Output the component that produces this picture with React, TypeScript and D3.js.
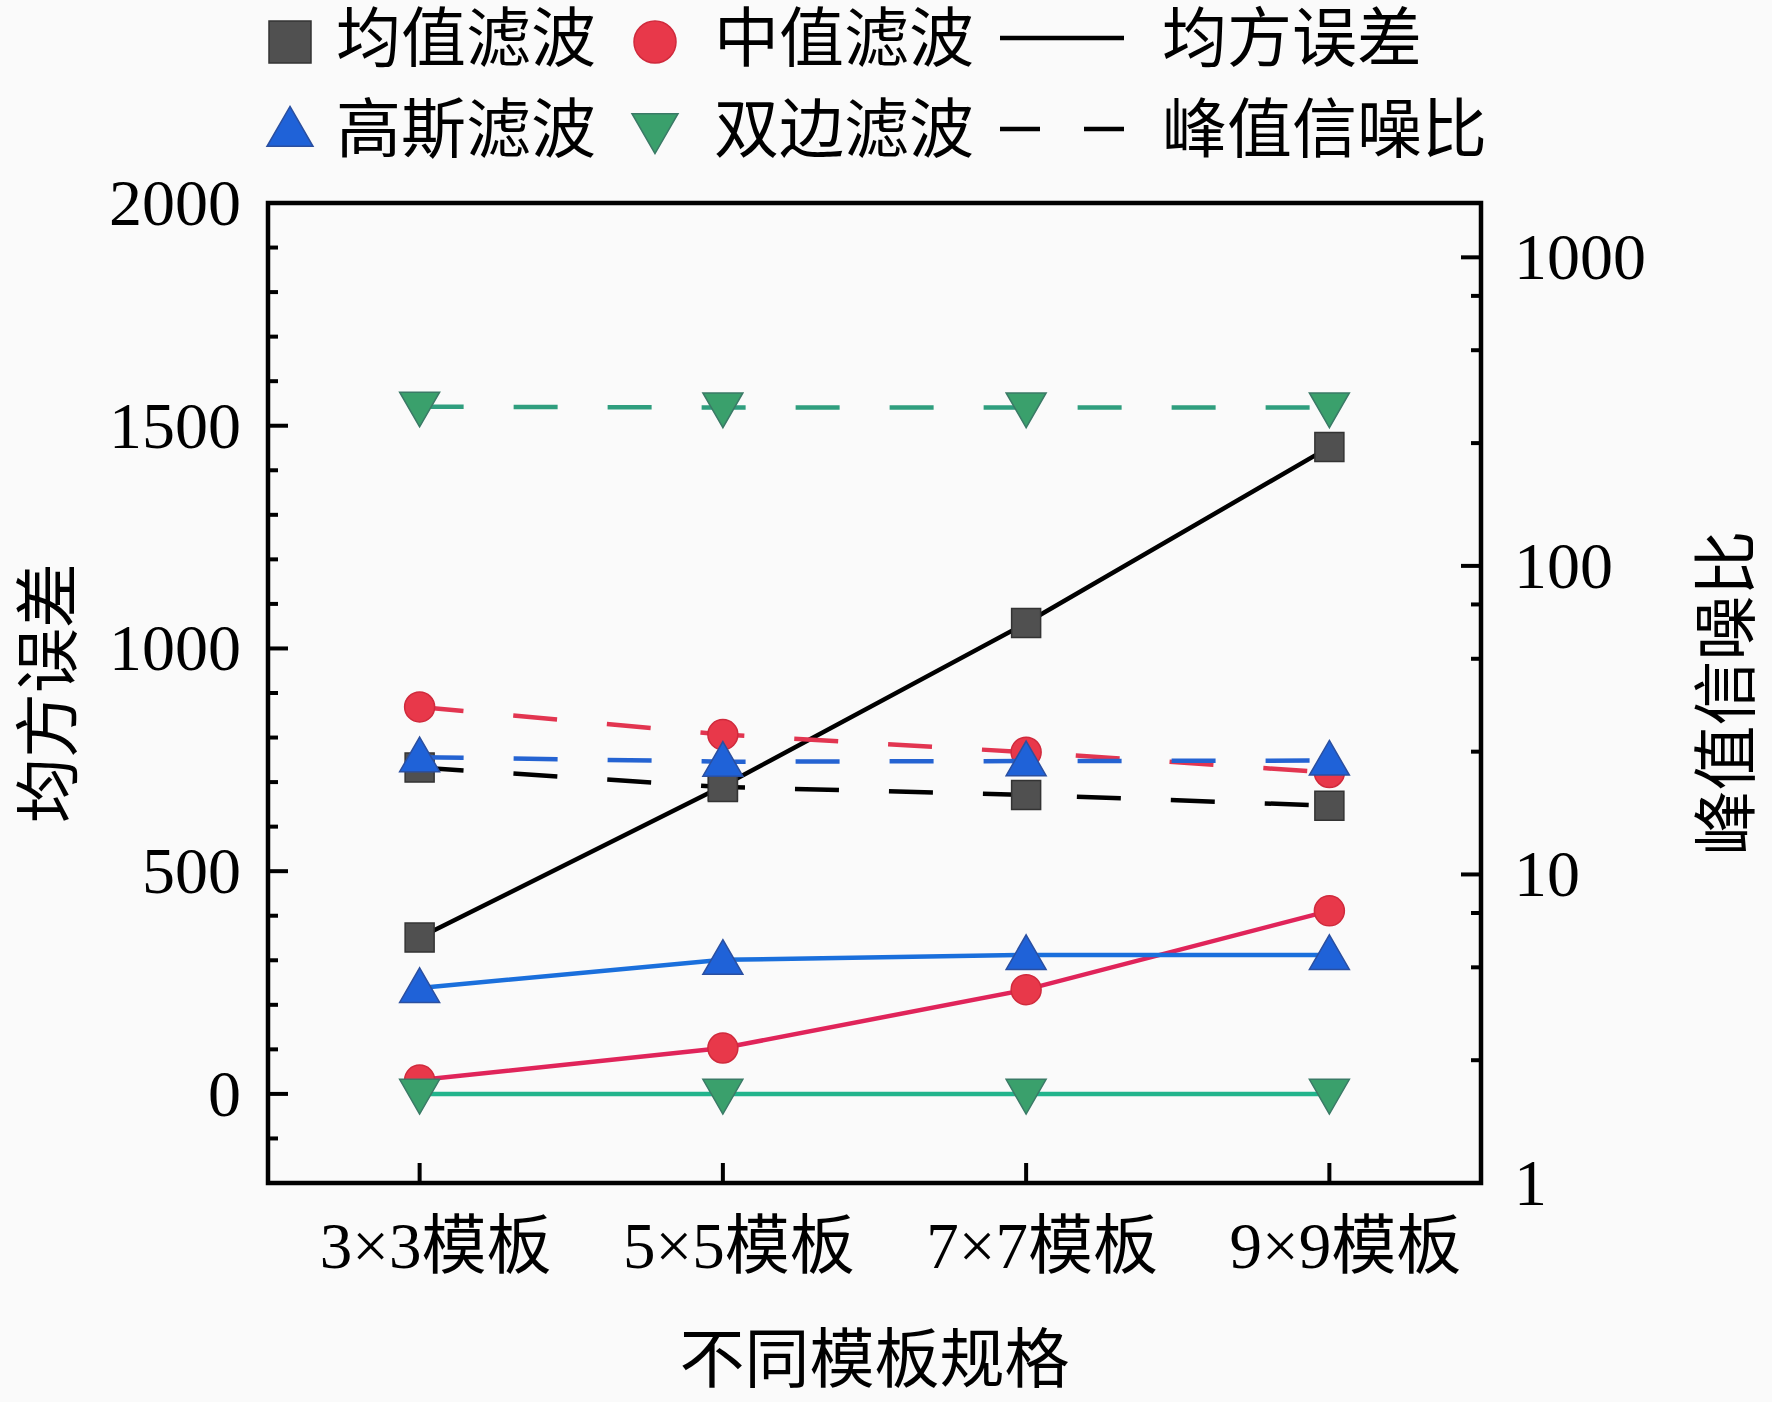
import * as d3 from 'd3';

// categories and values
const templates = ['3×3模板', '5×5模板', '7×7模板', '9×9模板'];
const filters = ['均值滤波', '中值滤波', '高斯滤波', '双边滤波'];

// 均方误差 (left axis, linear)
const mseMean = [351, 691, 1057, 1452];
const mseMedian = [31, 103, 234, 411];
const mseGauss = [238, 301, 312, 312];
const mseBilateral = [0, 0, 0, 0];

// 峰值信噪比 (right axis, log)
const psnrMean = [22.2, 19.2, 18.1, 16.7];
const psnrMedian = [34.9, 28.4, 24.9, 21.4];
const psnrGauss = [24.0, 23.2, 23.3, 23.4];
const psnrBilateral = [328, 326, 326, 326];

const leftTicks = [0, 500, 1000, 1500, 2000];
const rightTicks = [1, 10, 100, 1000];

const W = 1772;
const H = 1402;
const M = { left: 268, right: 1481, top: 203, bottom: 1183 };

const latin = '"Liberation Serif", "Times New Roman", serif';
const cjk = '"Liberation Serif", "Noto Sans CJK SC", sans-serif';

const series = [
  { name: filters[0], mse: mseMean, psnr: psnrMean, symbol: d3.symbolSquare, rot: 0, fill: '#505050', edge: '#333333', line: '#000000', dash: '#000000' },
  { name: filters[1], mse: mseMedian, psnr: psnrMedian, symbol: d3.symbolCircle, rot: 0, fill: '#e8384a', edge: '#d02a3c', line: '#e0245a', dash: '#e23550' },
  { name: filters[2], mse: mseGauss, psnr: psnrGauss, symbol: d3.symbolTriangle, rot: 0, fill: '#1f62d8', edge: '#2a4fa0', line: '#1a6fdc', dash: '#2463d2' },
  { name: filters[3], mse: mseBilateral, psnr: psnrBilateral, symbol: d3.symbolTriangle, rot: 180, fill: '#3aa06c', edge: '#3a7a66', line: '#22b48c', dash: '#2f9e7e' },
];

// marker areas: plot vs legend
function markerSize(symbol: any, big: boolean) {
  if (symbol === d3.symbolSquare) return big ? 42 * 42 : 29 * 29;
  if (symbol === d3.symbolCircle) return Math.PI * (big ? 21 * 21 : 15 * 15);
  const s = big ? 46 : 40;
  return (Math.sqrt(3) / 4) * s * s;
}

export default function App() {
  const x = d3.scalePoint<string>().domain(templates).range([M.left, M.right]).padding(0.5);
  const yL = d3.scaleLinear().domain([-200, 2000]).range([M.bottom, M.top]);
  const yR = d3.scaleLog().domain([1, 1500]).range([M.bottom, M.top]);

  const lineL = d3.line<number>().x((_, i) => x(templates[i])!).y((d) => yL(d));
  const lineR = d3.line<number>().x((_, i) => x(templates[i])!).y((d) => yR(d));

  const leftMinor = d3.range(-100, 2000, 100).filter((v) => v % 500 !== 0);
  const rightMinor: number[] = [];
  [1, 10, 100].forEach((dec) => [2.5, 5, 7.5].forEach((m) => rightMinor.push(dec * m)));

  const sym = (s: any, big: boolean) => d3.symbol().type(s).size(markerSize(s, big))()!;

  const legendCols = [290, 655];
  const legendText = [336, 714];
  const legendRows = [38, 129];

  return (
    <svg width={W} height={H} style={{ position: 'absolute', left: 0, top: 0, background: '#fafafa' }}>
      <rect width={W} height={H} fill="#fafafa" />

      {/* legend */}
      {series.map((s, i) => {
        const cx = legendCols[i % 2];
        const cy = legendRows[Math.floor(i / 2)];
        return (
          <g key={s.name}>
            <path d={sym(s.symbol, true)} transform={`translate(${cx},${cy + (s.rot ? -2 : 4)}) rotate(${s.rot})`} fill={s.fill} stroke={s.edge} strokeWidth={1.5} />
            <text x={legendText[i % 2]} y={cy + 23} fontFamily={cjk} fontSize={65} fill="#000">{s.name}</text>
          </g>
        );
      })}
      <line x1={1000} x2={1124} y1={38} y2={38} stroke="#000" strokeWidth={4.5} />
      <text x={1162} y={61} fontFamily={cjk} fontSize={65}>均方误差</text>
      <line x1={1000} x2={1124} y1={129} y2={129} stroke="#000" strokeWidth={4.5} strokeDasharray="40,44" />
      <text x={1162} y={152} fontFamily={cjk} fontSize={65}>峰值信噪比</text>

      {/* left axis ticks */}
      {leftTicks.map((t) => (
        <g key={'l' + t}>
          <line x1={M.left} x2={M.left + 20} y1={yL(t)} y2={yL(t)} stroke="#000" strokeWidth={4} />
          <text x={241} y={yL(t)} dy="0.33em" textAnchor="end" fontFamily={latin} fontSize={66}>{t}</text>
        </g>
      ))}
      {leftMinor.map((t) => (
        <line key={'lm' + t} x1={M.left} x2={M.left + 10} y1={yL(t)} y2={yL(t)} stroke="#000" strokeWidth={4} />
      ))}

      {/* right axis ticks */}
      {rightTicks.map((t) => (
        <g key={'r' + t}>
          <line x1={M.right - 20} x2={M.right} y1={yR(t)} y2={yR(t)} stroke="#000" strokeWidth={4} />
          <text x={1514} y={yR(t)} dy="0.33em" fontFamily={latin} fontSize={66}>{t}</text>
        </g>
      ))}
      {rightMinor.map((t) => (
        <line key={'rm' + t} x1={M.right - 10} x2={M.right} y1={yR(t)} y2={yR(t)} stroke="#000" strokeWidth={4} />
      ))}

      {/* bottom ticks */}
      {templates.map((c) => (
        <g key={c}>
          <line x1={x(c)} x2={x(c)} y1={M.bottom} y2={M.bottom - 20} stroke="#000" strokeWidth={4} />
          <text x={x(c)! + 16} y={1268} textAnchor="middle" fontFamily={cjk} fontSize={65}>{c}</text>
        </g>
      ))}

      {/* MSE series */}
      {series.map((s) => (
        <g key={'m' + s.name}>
          <path d={lineL(s.mse)!} fill="none" stroke={s.line} strokeWidth={4.5} />
          {s.mse.map((v, i) => (
            <path key={i} d={sym(s.symbol, false)} transform={`translate(${x(templates[i])},${yL(v) + (s.rot ? -3 : s.symbol === d3.symbolTriangle ? 3 : 0)}) rotate(${s.rot})`} fill={s.fill} stroke={s.edge} strokeWidth={1.5} />
          ))}
        </g>
      ))}

      {/* PSNR series */}
      {series.map((s) => (
        <g key={'p' + s.name}>
          <path d={lineR(s.psnr)!} fill="none" stroke={s.dash} strokeWidth={4.5} strokeDasharray="44,50" />
          {s.psnr.map((v, i) => (
            <path key={i} d={sym(s.symbol, false)} transform={`translate(${x(templates[i])},${yR(v) + (s.rot ? -3 : s.symbol === d3.symbolTriangle ? 3 : 0)}) rotate(${s.rot})`} fill={s.fill} stroke={s.edge} strokeWidth={1.5} />
          ))}
        </g>
      ))}

      {/* frame */}
      <rect x={M.left} y={M.top} width={M.right - M.left} height={M.bottom - M.top} fill="none" stroke="#000" strokeWidth={4.5} />

      {/* axis titles */}
      <text transform={`translate(71,${(M.top + M.bottom) / 2}) rotate(-90)`} textAnchor="middle" fontFamily={cjk} fontSize={65}>均方误差</text>
      <text transform={`translate(1749,${(M.top + M.bottom) / 2}) rotate(-90)`} textAnchor="middle" fontFamily={cjk} fontSize={65}>峰值信噪比</text>
      <text x={(M.left + M.right) / 2} y={1382} textAnchor="middle" fontFamily={cjk} fontSize={65}>不同模板规格</text>
    </svg>
  );
}
